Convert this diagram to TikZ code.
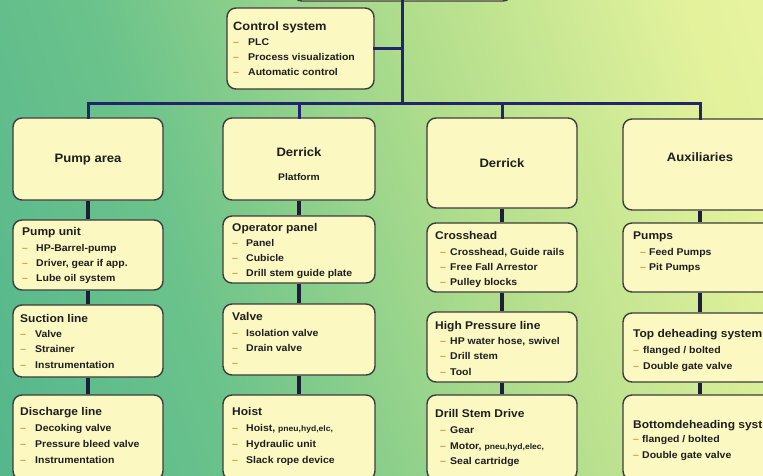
\documentclass[tikz,border=0pt]{standalone}
\usepackage{fontspec}
\setmainfont[FakeStretch=1.07]{Liberation Sans}
\definecolor{bgA}{HTML}{3BA98E}
\definecolor{bgB}{HTML}{6CC38B}
\definecolor{bgC}{HTML}{B2DE8C}
\definecolor{bgD}{HTML}{E4F29C}
\definecolor{bgE}{HTML}{F6F8AC}
\definecolor{boxfill}{HTML}{FBF8C2}
\definecolor{boxline}{HTML}{3C3C3C}
\definecolor{busc}{HTML}{23236E}
\definecolor{linkc}{HTML}{1E1E3A}
\definecolor{textc}{HTML}{1E1E1E}
\definecolor{dashc}{HTML}{D89A3C}
\pgfdeclarehorizontalshading{bgsh}{100bp}{color(0bp)=(bgA); color(36bp)=(bgB); color(57bp)=(bgC); color(76bp)=(bgD); color(100bp)=(bgE)}
\newcommand{\itemdash}[1]{\makebox[#1pt][l]{\textcolor{dashc}{–}}}
\begin{document}
\begin{tikzpicture}[x=1pt,y=-1pt,
  box/.style={draw=boxline, line width=1.4pt, rounded corners=9pt, fill=boxfill, inner sep=0pt},
  bus/.style={draw=busc, line width=3pt, line cap=rect},
  link/.style={draw=linkc, line width=3.2pt},
  txt/.style={anchor=base west, inner sep=0pt, text=textc, font=\bfseries\fontsize{9.8}{12}\selectfont},
  ttl/.style={anchor=base west, inner sep=0pt, text=textc, font=\bfseries\fontsize{11.2}{13}\selectfont},
  big/.style={inner sep=0pt, text=textc, font=\bfseries\fontsize{12.2}{14}\selectfont},
  sml/.style={inner sep=0pt, text=textc, font=\bfseries\fontsize{9.6}{12}\selectfont}]
\useasboundingbox (0,0) rectangle (763,476);
\clip (0,0) rectangle (763,476);
\shade[shading=bgsh, shading angle=18] (-5,-5) rectangle (768,481);

% boxes
\node[box, minimum width=219, minimum height=41] (topbox) at (402.5,-19.5) {};
\node[box, minimum width=147, minimum height=81] (ctrl) at (300.5,48.5) {};

\node[box, minimum width=150, minimum height=82] (p1) at (88,159) {};
\node[box, minimum width=150, minimum height=70] (p2) at (88,255) {};
\node[box, minimum width=150, minimum height=72] (p3) at (88,341) {};
\node[box, minimum width=150, minimum height=85] (p4) at (88,437.5) {};

\node[box, minimum width=152, minimum height=82] (d1) at (299,159) {};
\node[box, minimum width=152, minimum height=67] (d2) at (299,249.5) {};
\node[box, minimum width=152, minimum height=71] (d3) at (299,339.5) {};
\node[box, minimum width=152, minimum height=85] (d4) at (299,437.5) {};

\node[box, minimum width=150, minimum height=90] (r1) at (502,163) {};
\node[box, minimum width=150, minimum height=69] (r2) at (502,257.5) {};
\node[box, minimum width=150, minimum height=70] (r3) at (502,347) {};
\node[box, minimum width=150, minimum height=85] (r4) at (502,437.5) {};

\node[box, minimum width=154, minimum height=91] (a1) at (700,164.5) {};
\node[box, minimum width=154, minimum height=69] (a2) at (700,257.5) {};
\node[box, minimum width=154, minimum height=69] (a3) at (700,347.5) {};
\node[box, minimum width=154, minimum height=85] (a4) at (700,437.5) {};

% bus connectors
\coordinate (busL) at (88,104);
\coordinate (busR) at (700,104);
\draw[bus] (topbox.south) -- (topbox.south |- busL);
\draw[bus] (ctrl.east) -- (ctrl.east -| topbox.south);
\draw[bus] (busL) -- (busR);
\draw[bus] (busL) -- (p1.north);
\draw[bus] (d1.north |- busL) -- (d1.north);
\draw[bus] (r1.north |- busL) -- (r1.north);
\draw[bus] (busR) -- (a1.north);

% column links
\draw[link] (p1.south) -- (p2.north);
\draw[link] (p2.south) -- (p3.north);
\draw[link] (p3.south) -- (p4.north);
\draw[link] (d1.south) -- (d2.north);
\draw[link] (d2.south) -- (d3.north);
\draw[link] (d3.south) -- (d4.north);
\draw[link] (r1.south) -- (r2.north);
\draw[link] (r2.south) -- (r3.north);
\draw[link] (r3.south) -- (r4.north);
\draw[link] (a1.south) -- (a2.north);
\draw[link] (a2.south) -- (a3.north);
\draw[link] (a3.south) -- (a4.north);

% big titles
\node[big] (tp1) at (88,160) {Pump area};
\node[big] (td1) at (299,152) {Derrick};
\node[sml] (td1b) at (299,177) {Platform};
\node[big] (tr1) at (502,163) {Derrick};
\node[big] (ta1) at (700,157) {Auxiliaries};

% control system
\node[ttl, font=\bfseries\fontsize{12}{14}\selectfont] (tc0) at (233,30.5) {Control system};
\node[txt] (tc1) at (233,45.5) {\itemdash{15}PLC};
\node[txt] (tc2) at (233,61) {\itemdash{15}Process visualization};
\node[txt] (tc3) at (233,75.5) {\itemdash{15}Automatic control};

% column 1
\node[ttl] (tp20) at (22,235) {Pump unit};
\node[txt] (tp21) at (22,251.5) {\itemdash{14}HP-Barrel-pump};
\node[txt] (tp22) at (22,266.5) {\itemdash{14}Driver, gear if app.};
\node[txt] (tp23) at (22,281.5) {\itemdash{14}Lube oil system};

\node[ttl] (tp30) at (20,322) {Suction line};
\node[txt] (tp31) at (20,337) {\itemdash{15}Valve};
\node[txt] (tp32) at (20,352.5) {\itemdash{15}Strainer};
\node[txt] (tp33) at (20,368) {\itemdash{15}Instrumentation};

\node[ttl] (tp40) at (20,415) {Discharge line};
\node[txt] (tp41) at (20,431) {\itemdash{15}Decoking valve};
\node[txt] (tp42) at (20,447) {\itemdash{15}Pressure bleed valve};
\node[txt] (tp43) at (20,463) {\itemdash{15}Instrumentation};

% column 2
\node[ttl] (td20) at (232,231) {Operator panel};
\node[txt] (td21) at (232,246) {\itemdash{14}Panel};
\node[txt] (td22) at (232,261) {\itemdash{14}Cubicle};
\node[txt] (td23) at (232,276) {\itemdash{14}Drill stem guide plate};

\node[ttl] (td30) at (232,320) {Valve};
\node[txt] (td31) at (232,336) {\itemdash{14}Isolation valve};
\node[txt] (td32) at (232,351) {\itemdash{14}Drain valve};
\node[txt] (td33) at (232,366) {\itemdash{14}};

\node[ttl] (td40) at (232,415) {Hoist};
\node[txt] (td41) at (232,431) {\itemdash{14}Hoist, {\fontsize{8}{10}\selectfont pneu,hyd,elc,}};
\node[txt] (td42) at (232,447) {\itemdash{14}Hydraulic unit};
\node[txt] (td43) at (232,463) {\itemdash{14}Slack rope device};

% column 3
\node[ttl] (tr20) at (435,239) {Crosshead};
\node[txt] (tr21) at (440,255) {\itemdash{10}Crosshead, Guide rails};
\node[txt] (tr22) at (440,270) {\itemdash{10}Free Fall Arrestor};
\node[txt] (tr23) at (440,285.5) {\itemdash{10}Pulley blocks};

\node[ttl] (tr30) at (435,329) {High Pressure line};
\node[txt] (tr31) at (440,344) {\itemdash{10}HP water hose, swivel};
\node[txt] (tr32) at (440,359.5) {\itemdash{10}Drill stem};
\node[txt] (tr33) at (440,375) {\itemdash{10}Tool};

\node[ttl] (tr40) at (435,417) {Drill Stem Drive};
\node[txt] (tr41) at (440,433) {\itemdash{10}Gear};
\node[txt] (tr42) at (440,449) {\itemdash{10}Motor, {\fontsize{8}{10}\selectfont pneu,hyd,elec,}};
\node[txt] (tr43) at (440,464) {\itemdash{10}Seal cartridge};

% column 4
\node[ttl] (ta20) at (633,239) {Pumps};
\node[txt] (ta21) at (640,255) {\itemdash{9}Feed Pumps};
\node[txt] (ta22) at (640,270) {\itemdash{9}Pit Pumps};

\node[ttl] (ta30) at (633,337) {Top deheading system};
\node[txt] (ta31) at (633,353) {\itemdash{10}flanged / bolted};
\node[txt] (ta32) at (633,369) {\itemdash{10}Double gate valve};

\node[ttl] (ta40) at (633,428) {Bottomdeheading syst};
\node[txt] (ta41) at (633,442) {\itemdash{9}flanged / bolted};
\node[txt] (ta42) at (633,458) {\itemdash{9}Double gate valve};
\end{tikzpicture}
\end{document}
